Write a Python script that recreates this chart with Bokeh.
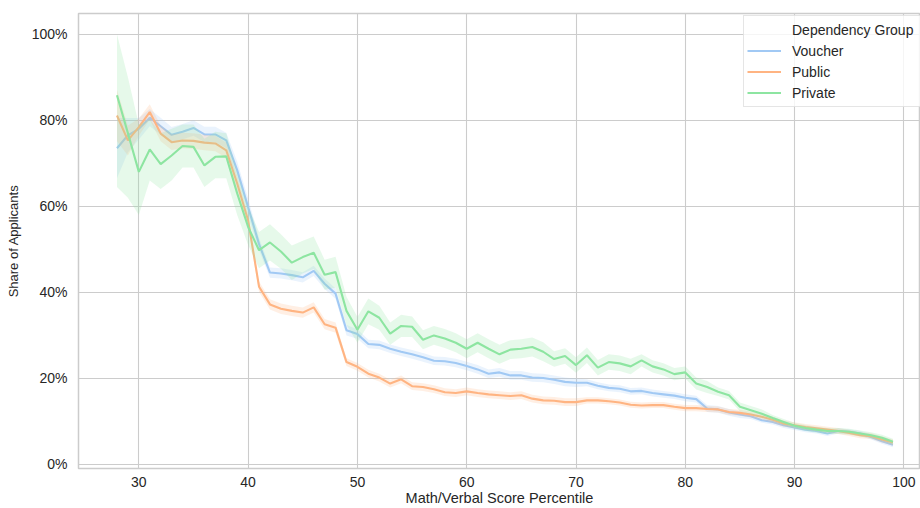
from bokeh.plotting import figure
from bokeh.models import (ColumnDataSource, FixedTicker, NumeralTickFormatter,
                          Legend, LegendItem, Range1d)
from bokeh.embed import file_html
from bokeh.resources import INLINE

# ---------------- data ----------------
percentile = list(range(28, 100))

voucher = [.735, .765, .780, .806, .786, .766, .773, .782, .767, .767,
           .753, .684, .598, .512, .446, .444, .440, .435, .450, .420,
           .397, .312, .303, .280, .278, .269, .262, .256, .249, .241,
           .240, .236, .229, .221, .211, .214, .207, .207, .202, .201,
           .197, .192, .190, .190, .183, .178, .176, .170, .171, .166,
           .163, .160, .155, .152, .130, .128, .121, .116, .112, .103,
           .099, .091, .086, .081, .078, .072, .078, .076, .072, .064,
           .054, .046]
voucher_err = [.070, .040, .025, .020, .020, .018, .018, .018, .018, .018,
               .018, .020, .020, .014, .012, .012, .012, .012, .012, .012,
               .012, .012, .011, .010, .010, .010, .010, .010, .010, .010,
               .010, .010, .010, .010, .010, .010, .010, .010, .010, .010,
               .010, .010, .010, .008, .008, .008, .008, .008, .008, .008,
               .008, .008, .008, .008, .008, .008, .008, .008, .006, .006,
               .006, .006, .006, .006, .006, .006, .006, .006, .006, .006,
               .006, .006]

public = [.811, .753, .784, .819, .769, .749, .753, .752, .748, .746,
          .730, .653, .567, .413, .372, .362, .357, .353, .365, .326,
          .318, .238, .227, .211, .202, .188, .198, .182, .180, .175,
          .168, .166, .170, .166, .163, .161, .159, .161, .153, .149,
          .148, .145, .145, .149, .149, .147, .144, .139, .137, .138,
          .138, .134, .131, .131, .129, .128, .122, .120, .116, .111,
          .104, .095, .091, .087, .084, .081, .078, .073, .068, .066,
          .058, .051]
public_err = [.060, .035, .020, .018, .018, .018, .018, .018, .018, .018,
              .018, .015, .012, .012, .012, .012, .012, .012, .012, .012,
              .012, .009, .009, .009, .009, .009, .009, .009, .009, .009,
              .009, .009, .009, .009, .009, .009, .009, .009, .009, .009,
              .009, .009, .009, .007, .007, .007, .007, .007, .007, .007,
              .007, .007, .007, .007, .007, .007, .007, .007, .007, .007,
              .007, .007, .007, .007, .007, .007, .007, .007, .007, .007,
              .007, .007]

private = [.858, .770, .680, .732, .698, .718, .740, .738, .695, .715,
           .716, .630, .552, .498, .516, .495, .469, .482, .492, .441,
           .447, .357, .313, .356, .341, .304, .322, .320, .290, .300,
           .293, .283, .269, .283, .269, .256, .267, .269, .273, .262,
           .245, .252, .231, .254, .225, .238, .235, .228, .242, .228,
           .221, .210, .214, .188, .180, .169, .161, .134, .126, .118,
           .108, .099, .090, .085, .081, .078, .078, .076, .072, .068,
           .062, .053]
private_err_up = [.142, .130, .110, .070, .072, .062, .050, .052, .062, .058,
                  .054, .050, .048, .042, .042, .040, .040, .038, .038, .035,
                  .036, .033, .030, .030, .028, .026, .026, .024, .022, .022,
                  .022, .022, .022, .022, .022, .022, .022, .022, .022, .022,
                  .018, .018, .018, .018, .018, .018, .018, .018, .014, .014,
                  .014, .014, .014, .014, .014, .010, .010, .010, .010, .010,
                  .007, .007, .007, .007, .007, .007, .007, .007, .007, .007,
                  .007, .007]
private_err_dn = [.213, .150, .100, .072, .058, .058, .050, .048, .050, .050,
                  .051, .050, .042, .042, .042, .040, .040, .038, .038, .035,
                  .036, .033, .030, .030, .028, .026, .026, .024, .022, .022,
                  .022, .022, .022, .022, .022, .022, .022, .022, .022, .022,
                  .018, .018, .018, .018, .018, .018, .018, .018, .014, .014,
                  .014, .014, .014, .014, .014, .010, .010, .010, .010, .010,
                  .007, .007, .007, .007, .007, .007, .007, .007, .007, .007,
                  .007, .007]

group_names = ["Voucher", "Public", "Private"]
group_colors = ["#a1c9f4", "#ffb482", "#8de5a1"]
legend_title = "Dependency Group"
x_ticks = [30, 40, 50, 60, 70, 80, 90, 100]
y_ticks = [0.0, 0.2, 0.4, 0.6, 0.8, 1.0]
x_label = "Math/Verbal Score Percentile"
y_label = "Share of Applicants"

FONT = "Liberation Sans"
TEXT = "#262626"
GRID = "#cccccc"

# ---------------- figure ----------------
p = figure(width=920, height=508, output_backend="svg", toolbar_location=None,
           x_range=Range1d(24.48, 101.52), y_range=Range1d(-0.0093, 1.048),
           min_border_left=78, min_border_right=0, min_border_top=13,
           min_border_bottom=40)
p.background_fill_color = "white"
p.border_fill_color = "white"
p.outline_line_color = GRID
p.outline_line_width = 1.5

for g in (p.xgrid, p.ygrid):
    g.grid_line_color = GRID
    g.grid_line_width = 1.1

p.xaxis.ticker = FixedTicker(ticks=x_ticks)
p.yaxis.ticker = FixedTicker(ticks=y_ticks)
p.yaxis.formatter = NumeralTickFormatter(format="0%")

for ax in (p.xaxis, p.yaxis):
    ax.axis_line_color = None
    ax.major_tick_line_color = None
    ax.minor_tick_line_color = None
    ax.major_tick_out = 0
    ax.major_tick_in = 0
    ax.major_label_text_font = FONT
    ax.major_label_text_font_size = "14px"
    ax.major_label_text_color = TEXT
    ax.axis_label_text_font = FONT
    ax.axis_label_text_font_style = "normal"
    ax.axis_label_text_color = TEXT
p.xaxis.major_label_standoff = 8
p.yaxis.major_label_standoff = 11
p.yaxis.axis_label = y_label
p.yaxis.axis_label_text_font_size = "13px"
p.yaxis.axis_label_standoff = 8
p.xaxis.axis_label = x_label
p.xaxis.axis_label_text_font_size = "14.5px"
p.xaxis.axis_label_standoff = 0

series = [
    (voucher, [v - e for v, e in zip(voucher, voucher_err)], [v + e for v, e in zip(voucher, voucher_err)]),
    (public, [v - e for v, e in zip(public, public_err)], [v + e for v, e in zip(public, public_err)]),
    (private, [v - e for v, e in zip(private, private_err_dn)], [v + e for v, e in zip(private, private_err_up)]),
]

dummy = p.line(x=[], y=[], line_alpha=0)
items = [LegendItem(label=legend_title, renderers=[dummy])]
for (mean, lo, hi), name, color in zip(series, group_names, group_colors):
    src = ColumnDataSource(dict(x=percentile, y=mean, lo=lo, hi=hi))
    p.varea(x="x", y1="lo", y2="hi", source=src, fill_color=color, fill_alpha=0.22)
    r = p.line(x="x", y="y", source=src, line_color=color, line_width=2.1)
    items.append(LegendItem(label=name, renderers=[r]))

legend = Legend(items=items, location=(665, 361))
legend.label_text_font = FONT
legend.label_text_font_size = "14px"
legend.label_text_color = TEXT
legend.glyph_width = 34
legend.glyph_height = 21
legend.label_height = 21
legend.label_width = 140
legend.label_standoff = 11
legend.padding = 3
legend.spacing = 0
legend.margin = 0
legend.border_line_color = GRID
legend.border_line_width = 1
legend.background_fill_alpha = 0.8
p.add_layout(legend)

open("out.html", "w").write(file_html(p, INLINE))
